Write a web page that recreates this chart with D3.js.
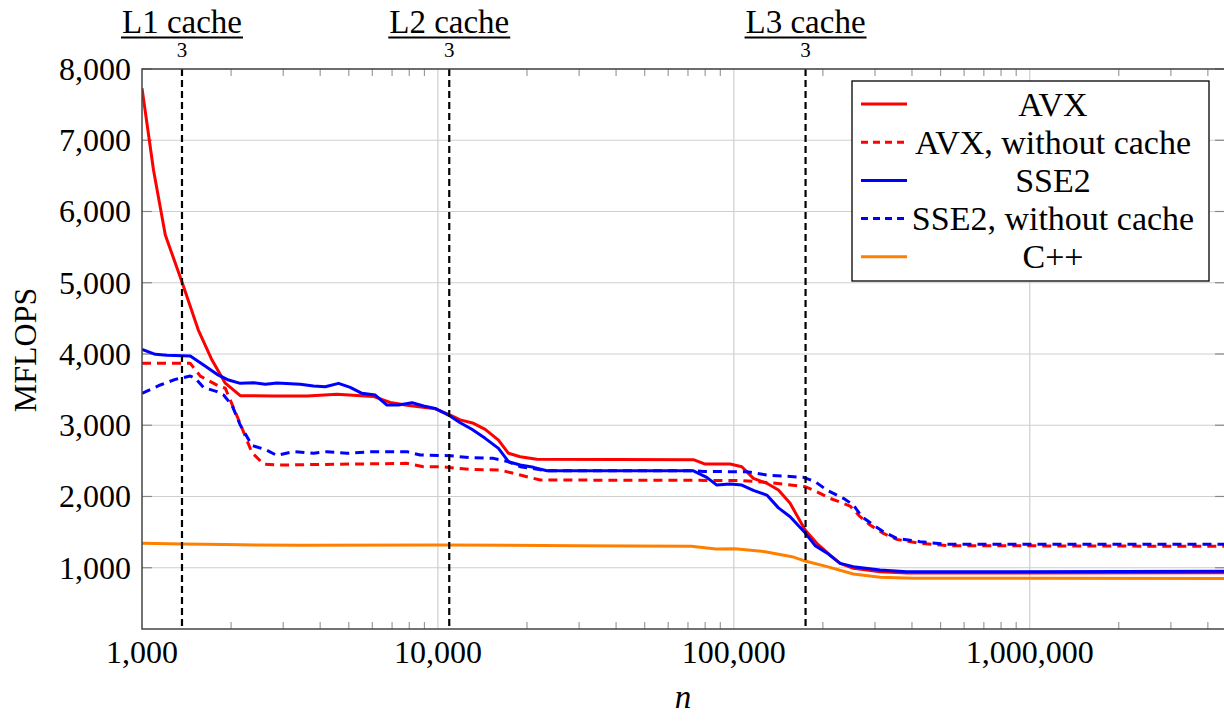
<!DOCTYPE html>
<html>
<head>
<meta charset="utf-8">
<script src="https://cdn.jsdelivr.net/npm/d3@7"></script>
<style>
body { margin: 0; background: #fff; }
text { font-family: "Liberation Serif", "Times New Roman", serif; fill: #000; }
</style>
</head>
<body>
<div id="main"></div>
<script>
// values: [n, MFLOPS]
const avx = [[1000,7730],[1094,6580],[1199,5670],[1365,5010],[1549,4340],[1724,3915],[1912,3590],[2148,3415],[2777,3410],[3618,3410],[4558,3435],[6045,3405],[6901,3320],[7859,3280],[9793,3230],[11004,3143],[11893,3075],[13189,3027],[14446,2943],[16021,2792],[17318,2606],[18967,2558],[21600,2522],[73030,2516],[79980,2455],[97170,2455],[106400,2417],[116460,2255],[129290,2185],[141520,2090],[154980,1904],[174130,1529],[190750,1342],[211540,1178],[228680,1061],[253600,991],[312160,944],[384100,925],[4600000,930]];
const avxNoCache = [[1000,3869],[1456,3869],[1574,3690],[1815,3550],[1912,3520],[2148,3020],[2353,2615],[2575,2455],[2858,2441],[7859,2465],[8942,2418],[10180,2418],[12854,2381],[16237,2371],[18967,2301],[22160,2231],[105020,2225],[136130,2190],[174130,2138],[190750,2067],[211540,1974],[247160,1866],[267200,1716],[288740,1599],[320270,1482],[355350,1398],[425950,1342],[524310,1310],[4600000,1300]];
const sse2 = [[1000,4065],[1109,3995],[1215,3981],[1456,3971],[1615,3845],[1792,3715],[1962,3634],[2148,3588],[2382,3597],[2610,3574],[2858,3592],[3426,3574],[3799,3550],[4162,3541],[4615,3588],[5055,3532],[5537,3448],[6140,3424],[6725,3284],[7361,3284],[8171,3317],[8942,3270],[9793,3237],[10859,3143],[11893,3035],[13026,2943],[14446,2816],[16021,2675],[17318,2488],[18967,2441],[21036,2409],[23350,2362],[73030,2360],[81020,2269],[87610,2160],[97170,2175],[106400,2160],[116460,2085],[129290,2020],[141520,1840],[154980,1716],[174130,1490],[188260,1310],[208810,1192],[228680,1061],[253600,1015],[312160,967],[384100,942],[4600000,950]];
const sse2NoCache = [[1000,3448],[1153,3565],[1296,3644],[1456,3691],[1514,3659],[1615,3530],[1792,3471],[1887,3424],[2014,3280],[2148,3003],[2353,2715],[2610,2660],[2858,2576],[3252,2629],[3799,2606],[4217,2629],[4927,2606],[6045,2629],[7859,2629],[8714,2582],[11004,2572],[12854,2545],[15409,2535],[17318,2488],[18967,2418],[23350,2362],[73030,2362],[78930,2350],[110650,2348],[129290,2301],[171830,2269],[188260,2208],[206230,2090],[234650,1974],[253600,1880],[270740,1716],[296230,1599],[320270,1506],[355350,1412],[425950,1366],[524310,1329],[4600000,1330]];
const cpp = [[1000,1342],[1365,1333],[1900,1325],[3426,1314],[10400,1319],[29550,1310],[71740,1300],[87130,1262],[100700,1265],[127570,1225],[157300,1155],[175500,1090],[206700,1015],[253600,912],[312160,865],[404370,851],[4600000,850]];

const seriesNames = ["AVX", "AVX, without cache", "SSE2", "SSE2, without cache", "C++"];
const seriesColors = ["#ff0000", "#ff0000", "#0000ff", "#0000ff", "#ff8000"];
const seriesDashed = [false, true, false, true, false];
const seriesData = [avx, avxNoCache, sse2, sse2NoCache, cpp];

const cacheNames = ["L1 cache", "L2 cache", "L3 cache"];
const cacheN = [1365, 10923, 174763];
const xTicks = [1000, 10000, 100000, 1000000];
const yTicks = [1000, 2000, 3000, 4000, 5000, 6000, 7000, 8000];

const width = 1224, height = 727;
const margin = {top: 69, left: 142, right: -1, bottom: 98};
const plotW = width - margin.left - margin.right;
const plotH = height - margin.top - margin.bottom;

const svg = d3.select('#main').append('svg').attr("width", width).attr("height", height);

const x = d3.scaleLog().domain([1000, 4570000]).range([0, plotW]);
const y = d3.scaleLinear().domain([140, 8000]).range([plotH, 0]);

svg.append("clipPath").attr("id", "clip").append("rect").attr("width", plotW).attr("height", plotH);

const g = svg.append("g").attr("transform", `translate(${margin.left},${margin.top})`);

// grid
g.selectAll(".hgrid").data(yTicks).enter().append("line")
  .attr("x1", 0).attr("x2", plotW).attr("y1", d => y(d)).attr("y2", d => y(d))
  .attr("stroke", "#cfcfcf").attr("stroke-width", 1.2);
g.selectAll(".vgrid").data(xTicks.slice(1)).enter().append("line")
  .attr("x1", d => x(d)).attr("x2", d => x(d)).attr("y1", 0).attr("y2", plotH)
  .attr("stroke", "#cfcfcf").attr("stroke-width", 1.2);

// minor ticks top and bottom
const minor = [];
for (let dec = 1000; dec < 4570000; dec *= 10) {
  for (let k = 2; k <= 9; k++) if (dec * k < 4570000) minor.push(dec * k);
}
g.selectAll(".mb").data(minor).enter().append("line")
  .attr("x1", d => x(d)).attr("x2", d => x(d)).attr("y1", plotH).attr("y2", plotH - 7)
  .attr("stroke", "#888").attr("stroke-width", 1);
g.selectAll(".mt").data(minor).enter().append("line")
  .attr("x1", d => x(d)).attr("x2", d => x(d)).attr("y1", 0).attr("y2", 7)
  .attr("stroke", "#888").attr("stroke-width", 1);
// major ticks on y (left & right)
g.selectAll(".yl").data(yTicks).enter().append("line")
  .attr("x1", 0).attr("x2", 10).attr("y1", d => y(d)).attr("y2", d => y(d))
  .attr("stroke", "#888").attr("stroke-width", 1.2);
g.selectAll(".yr").data(yTicks).enter().append("line")
  .attr("x1", plotW).attr("x2", plotW - 10).attr("y1", d => y(d)).attr("y2", d => y(d))
  .attr("stroke", "#888").attr("stroke-width", 1.2);

// series
const line = d3.line().x(d => x(d[0])).y(d => y(d[1]));
const lines = g.append("g").attr("clip-path", "url(#clip)");
seriesData.forEach((s, i) => {
  lines.append("path").datum(s).attr("d", line)
    .attr("fill", "none").attr("stroke", seriesColors[i]).attr("stroke-width", 3)
    .attr("stroke-linejoin", "round")
    .attr("stroke-dasharray", seriesDashed[i] ? "9,6" : null);
});

// cache lines
g.selectAll(".cache").data(cacheN).enter().append("line")
  .attr("x1", d => x(d)).attr("x2", d => x(d)).attr("y1", 0).attr("y2", plotH)
  .attr("stroke", "#000").attr("stroke-width", 2.2).attr("stroke-dasharray", "7,4");

// axis frame
g.append("rect").attr("width", plotW).attr("height", plotH)
  .attr("fill", "none").attr("stroke", "#444").attr("stroke-width", 1.5);

// tick labels
g.selectAll(".xl").data(xTicks).enter().append("text")
  .attr("x", d => x(d)).attr("y", plotH + 34)
  .attr("text-anchor", "middle").attr("font-size", 32)
  .text(d => d3.format(",")(d));
g.selectAll(".ylab").data(yTicks).enter().append("text")
  .attr("x", -11).attr("y", d => y(d)).attr("dy", "0.34em")
  .attr("text-anchor", "end").attr("font-size", 32)
  .text(d => d3.format(",")(d));

// cache fraction labels on top
cacheNames.forEach((c, i) => {
  const cx = x(cacheN[i]);
  const t = g.append("text").attr("x", cx).attr("y", -36).attr("text-anchor", "middle")
    .attr("font-size", 33).text(c);
  const w = t.node().getComputedTextLength();
  g.append("line").attr("x1", cx - w / 2 - 1).attr("x2", cx + w / 2 + 1)
    .attr("y1", -31.5).attr("y2", -31.5).attr("stroke", "#000").attr("stroke-width", 2.2);
  g.append("text").attr("x", cx).attr("y", -12).attr("text-anchor", "middle")
    .attr("font-size", 21).text("3");
});

// axis titles
svg.append("text").attr("transform", "translate(36,350) rotate(-90)")
  .attr("text-anchor", "middle").attr("font-size", 32).text("MFLOPS");
svg.append("text").attr("x", 683).attr("y", 708).attr("text-anchor", "middle")
  .attr("font-size", 33).attr("font-style", "italic").text("n");

// legend
const leg = svg.append("g").attr("transform", "translate(852,81)");
leg.append("rect").attr("width", 357).attr("height", 200)
  .attr("fill", "#fff").attr("stroke", "#000").attr("stroke-width", 1.3);
seriesNames.forEach((name, i) => {
  const ry = 23 + i * 38.2;
  leg.append("line").attr("x1", 9).attr("x2", 55).attr("y1", ry).attr("y2", ry)
    .attr("stroke", seriesColors[i]).attr("stroke-width", 3)
    .attr("stroke-dasharray", seriesDashed[i] ? "7,5" : null);
  leg.append("text").attr("x", 201).attr("y", ry).attr("dy", "0.34em")
    .attr("text-anchor", "middle").attr("font-size", 34).text(name);
});
</script>
</body>
</html>
